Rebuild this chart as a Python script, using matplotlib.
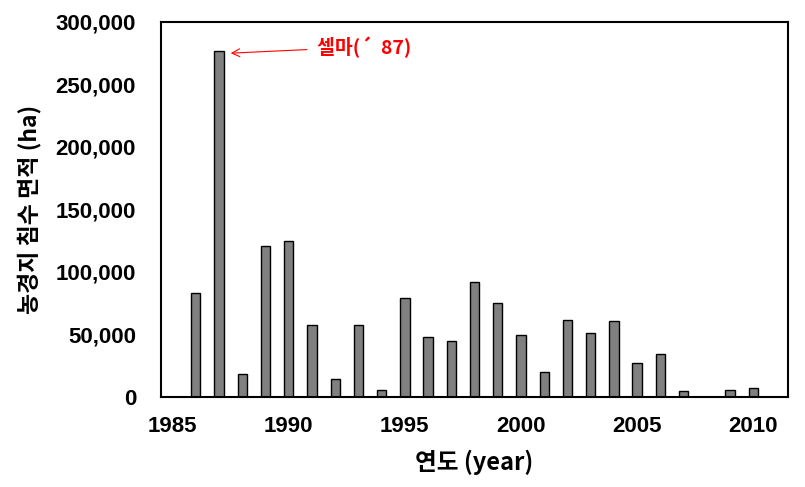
import matplotlib
matplotlib.use("Agg")
from matplotlib import pyplot as plt
from matplotlib.ticker import FuncFormatter

years = [1986, 1987, 1988, 1989, 1990, 1991, 1992, 1993, 1994, 1995, 1996, 1997,
         1998, 1999, 2000, 2001, 2002, 2003, 2004, 2005, 2006, 2007, 2008, 2009, 2010]
area = [83000, 277000, 18500, 121000, 124500, 57500, 14000, 57500, 5500, 79000, 47800, 44500,
        91800, 75000, 49300, 19800, 61300, 51200, 60500, 27000, 34000, 4500, 0, 5300, 7200]

xticks = [1985, 1990, 1995, 2000, 2005, 2010]
yticks = [0, 50000, 100000, 150000, 200000, 250000, 300000]

num_font = 'Liberation Sans'
kr_font = ['Noto Sans CJK KR', 'DejaVu Sans']

fig = plt.figure(figsize=(8.05, 4.87), dpi=100)
ax = fig.add_axes([0.2, 0.185, 0.779, 0.77])

ax.bar(years, area, width=0.4, color='#808080', edgecolor='black', linewidth=1)

ax.set_xlim(1984.5, 2011.5)
ax.set_ylim(0, 300000)
ax.set_xticks(xticks)
ax.set_yticks(yticks)
ax.yaxis.set_major_formatter(FuncFormatter(lambda v, p: f'{int(v):,}'))
ax.tick_params(axis='both', length=0)
ax.tick_params(axis='y', pad=18)
ax.tick_params(axis='x', pad=14)
for lab in ax.get_xticklabels() + ax.get_yticklabels():
    lab.set_fontfamily(num_font)
    lab.set_fontweight('bold')
    lab.set_fontsize(16)

for s in ax.spines.values():
    s.set_linewidth(1.5)
    s.set_color('black')

ax.set_ylabel('농경지 침수 면적 (ha)', family=kr_font, fontweight='bold', fontsize=16.5, labelpad=10)
ax.set_xlabel('연도 (year)', family=kr_font, fontweight='bold', fontsize=17, labelpad=9)

# Thelma typhoon annotation
ax.annotate('셀마(´  87)', xy=(1987.5, 275000), xytext=(1991.2, 280000),
            color='red', fontsize=14, fontweight='bold', family=kr_font, va='center',
            arrowprops=dict(arrowstyle='->', color='red', lw=0.8, shrinkA=5, shrinkB=0))

fig.savefig('out.png', dpi=100)
